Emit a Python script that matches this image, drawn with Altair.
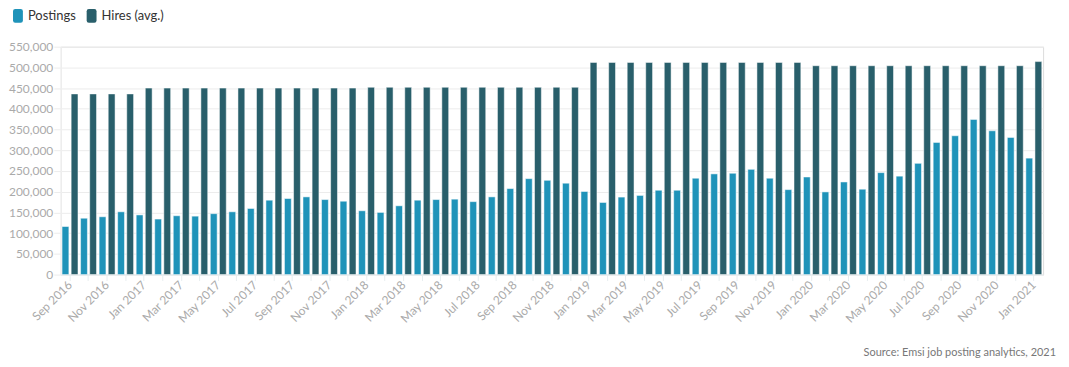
import altair as alt
import pandas as pd

months = ["Sep 2016", "Oct 2016", "Nov 2016", "Dec 2016",
          "Jan 2017", "Feb 2017", "Mar 2017", "Apr 2017", "May 2017", "Jun 2017",
          "Jul 2017", "Aug 2017", "Sep 2017", "Oct 2017", "Nov 2017", "Dec 2017",
          "Jan 2018", "Feb 2018", "Mar 2018", "Apr 2018", "May 2018", "Jun 2018",
          "Jul 2018", "Aug 2018", "Sep 2018", "Oct 2018", "Nov 2018", "Dec 2018",
          "Jan 2019", "Feb 2019", "Mar 2019", "Apr 2019", "May 2019", "Jun 2019",
          "Jul 2019", "Aug 2019", "Sep 2019", "Oct 2019", "Nov 2019", "Dec 2019",
          "Jan 2020", "Feb 2020", "Mar 2020", "Apr 2020", "May 2020", "Jun 2020",
          "Jul 2020", "Aug 2020", "Sep 2020", "Oct 2020", "Nov 2020", "Dec 2020",
          "Jan 2021"]

postings = [116000, 136000, 139500, 151500,
            144000, 134000, 142000, 141000, 147000, 151500,
            159500, 179500, 183500, 187500, 181000, 177000,
            154000, 150000, 166000, 179500, 181000, 182000,
            176000, 187500, 207500, 231500, 227500, 220500,
            200500, 174000, 187000, 191000, 203500, 203500,
            232500, 243000, 244500, 254000, 232500, 205000,
            235500, 199500, 223500, 206000, 246000, 237500,
            268500, 319000, 335000, 374500, 347000, 331000,
            281000]

hires = [436000] * 4 + [450000] * 12 + [452000] * 12 + [512000] * 12 + [504000] * 12 + [514000]

series = ["Postings", "Hires (avg.)"]
colors = ["#1f93b9", "#295f6b"]

rows = []
for m, p, h in zip(months, postings, hires):
    rows.append({"month": m, "series": series[0], "value": p})
    rows.append({"month": m, "series": series[1], "value": h})
df = pd.DataFrame(rows)

label_months = months[::2]
label_expr = "indexof([" + ",".join("'" + m + "'" for m in label_months) + "], datum.value) >= 0 ? datum.value : ''"

FONT = "Lato"
ROUNDED = ("M-0.4,-1 L0.4,-1 Q0.72,-1 0.72,-0.68 L0.72,0.68 Q0.72,1 0.4,1 "
           "L-0.4,1 Q-0.72,1 -0.72,0.68 L-0.72,-0.68 Q-0.72,-1 -0.4,-1 Z")

chart = alt.Chart(df).mark_bar(stroke="white", strokeOpacity=0.5, strokeWidth=1).encode(
    x=alt.X("month:N", sort=months, title=None,
            scale=alt.Scale(paddingInner=0.14, paddingOuter=0.07),
            axis=alt.Axis(labelAngle=-45, labelExpr=label_expr, labelColor="#aaaaaa",
                          labelFontSize=12, labelFont=FONT, tickColor="#e8eef0",
                          domainColor="#e8eef0", tickSize=6, labelPadding=2,
                          labelAlign="right", labelBaseline="middle")),
    xOffset=alt.XOffset("series:N", sort=series, scale=alt.Scale(paddingInner=0.25)),
    y=alt.Y("value:Q", title=None,
            scale=alt.Scale(domain=[0, 550000], nice=False),
            axis=alt.Axis(values=list(range(0, 550001, 50000)), format=",d",
                          labelColor="#aaaaaa", labelFontSize=12, labelFont=FONT,
                          gridColor="#ececec", tickColor="#ececec", domainColor="#f0f0f0",
                          tickSize=7, labelPadding=1)),
    color=alt.Color("series:N", sort=series,
                    scale=alt.Scale(domain=series, range=colors),
                    legend=alt.Legend(title=None, orient="none", legendX=-50, legendY=-38,
                                      direction="horizontal", symbolType=ROUNDED,
                                      symbolSize=190, symbolStrokeWidth=0,
                                      labelFont=FONT, labelFontSize=13, labelColor="#333333",
                                      columnPadding=8, labelOffset=3)),
).properties(
    width=987, height=229,
    title=alt.TitleParams("Source: Emsi job posting analytics, 2021", orient="bottom",
                          anchor="end", font=FONT, fontSize=11, fontWeight="normal",
                          color="#777777", dx=13, offset=22),
).configure_view(stroke=None).configure(padding={"left": 0, "top": 0, "right": 5, "bottom": 5})

chart.save("out.html", embed_options={"renderer": "svg", "actions": False})
